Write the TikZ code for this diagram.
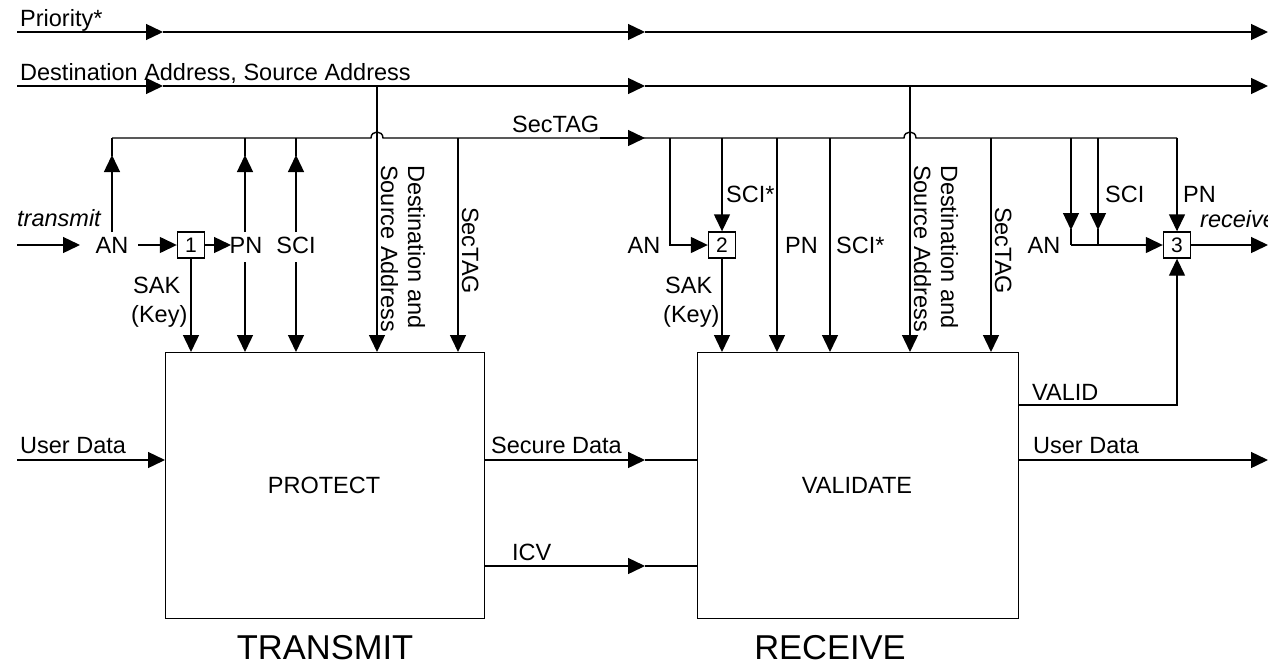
\documentclass[tikz,border=0pt]{standalone}
\usepackage{fontspec}
\setmainfont{Liberation Sans}
\usetikzlibrary{arrows.meta}
\tikzset{
  >={Triangle[length=17pt,width=16pt]},
  wire/.style={line width=1.4pt},
  lbl/.style={inner sep=0pt, anchor=base west, font=\fontsize{23.5}{28}\selectfont},
  vlbl/.style={lbl, rotate=-90},
  ctr/.style={inner sep=0pt, font=\fontsize{23.5}{28}\selectfont},
  numbox/.style={draw, line width=1.4pt, minimum width=27pt, minimum height=26pt, inner sep=0pt, font=\fontsize{21}{24}\selectfont},
  block/.style={draw, line width=1.4pt, inner sep=0pt},
  title/.style={inner sep=0pt, font=\fontsize{34.5}{40}\selectfont},
}
\begin{document}
\begin{tikzpicture}[x=1pt, y=-1pt]
\useasboundingbox (0,0) rectangle (1268,667);

% ---------- top bus lines ----------
\coordinate (pr0) at (17,32);  \coordinate (pr1) at (163,32);
\coordinate (pr2) at (645,32); \coordinate (pr3) at (1268,32);
\draw[wire,->] (pr0) -- (pr1);
\draw[wire,->] (pr1) -- (pr2);
\draw[wire,->] (pr2) -- (pr3);
\node[lbl] (lpri) at (20,26) {Priority*};

\coordinate (da0) at (17,86);  \coordinate (da1) at (163,86);
\coordinate (da2) at (645,86); \coordinate (da3) at (1268,86);
\draw[wire,->] (da0) -- (da1);
\draw[wire,->] (da1) -- (da2);
\draw[wire,->] (da2) -- (da3);
\node[lbl] (lda) at (20,80) {Destination Address, Source Address};

% SecTAG bus, hopping over the two address drops
\coordinate (st0) at (112,138); \coordinate (stm) at (645,138); \coordinate (st1) at (1177,138);
\draw[wire] (st0) -- (371,138) .. controls (371,130) and (383,130) .. (383,138) -- (stm);
\draw[wire,->] (600,138) -- (stm);
\draw[wire] (stm) -- (904,138) .. controls (904,130) and (916,130) .. (916,138) -- (st1);
\node[lbl] (lst) at (512,132) {SecTAG};

% ---------- transmit side ----------
\node[block, minimum width=319pt, minimum height=266pt, anchor=north west] (protect) at (165,352) {};
\node[ctr] (tprot) at (324,485) {PROTECT};
\node[title] (ttx) at (325,648) {TRANSMIT};

\node[lbl, font=\fontsize{23.5}{28}\selectfont\itshape] (ltx) at (17,226) {transmit};
\node[ctr] (an1) at (112,245) {AN};
\node[numbox] (b1) at (191,245) {1};
\node[ctr] (pn1) at (246,245) {PN};
\node[ctr] (sci1) at (296,245) {SCI};

\coordinate (txin) at (17,245);
\draw[wire,->] (txin) -- (80,245);
\draw[wire,->] (138,245) -- (b1.west);
\draw[wire,->] (b1.east) -- (231,245);

% upward feeds into the SecTAG bus
\foreach \x in {112,245,296}{
  \draw[wire,->] (\x,232) -- (\x,155);
  \draw[wire] (\x,156) -- (\x,138);
}
% downward feeds into PROTECT
\draw[wire,->] (b1.south) -- (191,352);
\draw[wire,->] (245,262) -- (245,352);
\draw[wire,->] (296,262) -- (296,352);
\draw[wire,->] (377,86) -- (377,352);
\draw[wire,->] (458,138) -- (458,352);

\node[lbl] (sak1) at (133,293) {SAK};
\node[lbl] (key1) at (131,322) {(Key)};
\node[vlbl] (dsa1) at (408,165) {Destination and};
\node[vlbl] (dsb1) at (381,165) {Source Address};
\node[vlbl] (vst1) at (462,207) {SecTAG};

% user data in
\draw[wire,->] (17,460) -- (protect.west |- 0,460);
\node[lbl] (ud1) at (20,453) {User Data};

% ---------- links between the blocks ----------
\node[block, minimum width=321pt, minimum height=266pt, anchor=north west] (validate) at (697,352) {};
\node[ctr] (tval) at (857,485) {VALIDATE};
\node[title] (trx) at (830,648) {RECEIVE};

\draw[wire,->] (protect.east |- 0,460) -- (645,460);
\draw[wire] (645,460) -- (validate.west |- 0,460);
\node[lbl] (lsd) at (491,453) {Secure Data};
\draw[wire,->] (protect.east |- 0,566) -- (645,566);
\draw[wire] (645,566) -- (validate.west |- 0,566);
\node[lbl] (licv) at (512,560) {ICV};

% ---------- receive side ----------
\node[ctr] (an2) at (644,245) {AN};
\node[numbox] (b2) at (722,245) {2};
\draw[wire,->] (670,138) -- (670,245) -- (b2.west);
\draw[wire,->] (722,138) -- (b2.north);
\node[lbl] (sci2) at (726,202) {SCI*};
\draw[wire,->] (b2.south) -- (722,352);
\node[lbl] (sak2) at (665,293) {SAK};
\node[lbl] (key2) at (663,322) {(Key)};

\draw[wire,->] (777,138) -- (777,352);
\node[lbl] (pn2) at (785,253) {PN};
\draw[wire,->] (830,138) -- (830,352);
\node[lbl] (sci3) at (836,253) {SCI*};
\draw[wire,->] (910,86) -- (910,352);
\node[vlbl] (dsa2) at (941,165) {Destination and};
\node[vlbl] (dsb2) at (914,165) {Source Address};
\draw[wire,->] (991,138) -- (991,352);
\node[vlbl] (vst2) at (995,207) {SecTAG};

\node[ctr] (an3) at (1044,245) {AN};
\node[numbox] (b3) at (1177,245) {3};
\foreach \x in {1071,1098}{
  \draw[wire,->] (\x,138) -- (\x,230);
  \draw[wire] (\x,229) -- (\x,245);
}
\draw[wire,->] (1071,245) -- (b3.west);
\node[lbl] (sci4) at (1105,202) {SCI};
\draw[wire,->] (st1) -- (b3.north);
\node[lbl] (pn3) at (1183,202) {PN};
\coordinate (rxout) at (1268,245);
\draw[wire,->] (b3.east) -- (rxout);
\node[lbl, font=\fontsize{23.5}{28}\selectfont\itshape] (lrx) at (1200,227) {receive};

\draw[wire,->] (validate.east |- 0,405) -- (1177,405) -- (b3.south);
\node[lbl] (lvalid) at (1032,400) {VALID};
\coordinate (udout) at (1268,460);
\draw[wire,->] (validate.east |- 0,460) -- (udout);
\node[lbl] (ud2) at (1033,453) {User Data};
\end{tikzpicture}
\end{document}
